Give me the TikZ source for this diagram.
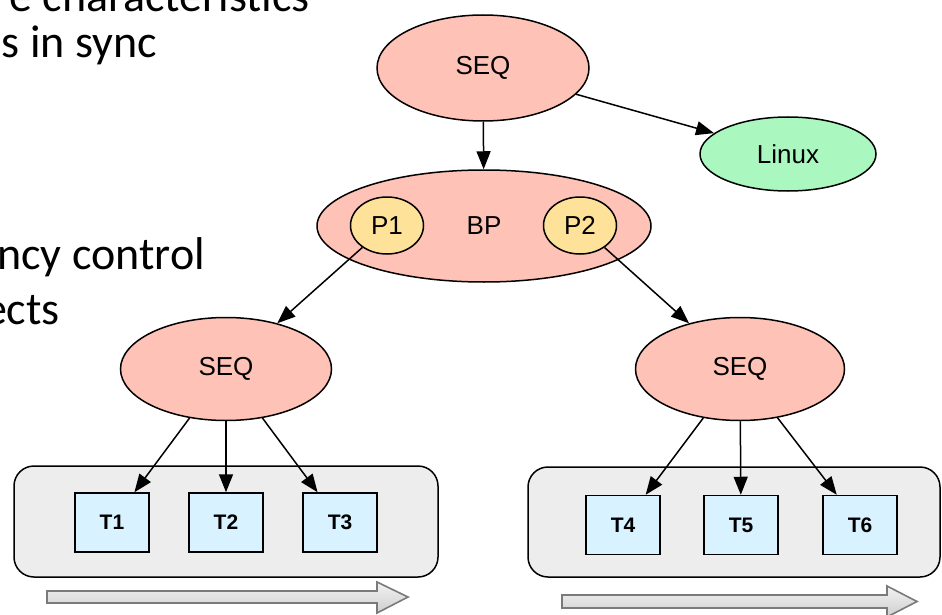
\documentclass[tikz,border=0pt]{standalone}
\usepackage{fontspec}
\setmainfont{Liberation Sans}
\newfontfamily\slidefont{Carlito}
\usetikzlibrary{shapes.geometric,arrows.meta}

\definecolor{salmon}{HTML}{FFC2B6}
\definecolor{gold}{HTML}{FFE29A}
\definecolor{mint}{HTML}{AAF7BF}
\definecolor{ice}{HTML}{D8F3FF}
\definecolor{panel}{HTML}{EDEDED}
\definecolor{rim}{HTML}{7A7A7A}
\definecolor{arrowtop}{HTML}{F2F2F2}
\definecolor{arrowbot}{HTML}{CFCFCF}

\tikzset{
  oval/.style={ellipse, draw=black, line width=1.5pt, inner sep=0pt,
    font=\fontsize{26}{30}\selectfont},
  seqnode/.style={oval, fill=salmon, minimum width=212pt, minimum height=106pt},
  portnode/.style={oval, fill=gold, minimum width=73pt, minimum height=57pt},
  tasknode/.style={rectangle, draw=black, fill=ice, line width=1.5pt,
    minimum width=74pt, minimum height=59pt, inner sep=0pt,
    font=\fontsize{21}{25}\selectfont\bfseries},
  group/.style={rectangle, rounded corners=20pt, draw=black, fill=panel,
    line width=1.5pt, inner sep=0pt},
  link/.style={line width=1.5pt, -{Triangle[length=18pt,width=14pt]}},
  flow/.style={draw=rim, top color=arrowtop, bottom color=arrowbot,
    line width=1.6pt, line join=miter},
  slidetext/.style={inner sep=0pt, anchor=base east,
    font=\slidefont\fontsize{46}{54}\selectfont}
}

\begin{document}
\begin{tikzpicture}[x=1pt, y=-1pt]
  \useasboundingbox (0,0) rectangle (942,615);
  \clip (0,0) rectangle (942,615);

  % bullet text of the slide, running in from the left edge
  \node[slidetext] (line1) at (310,12) {e characteristics};
  \node[slidetext] (line2) at (157,58) {s in sync};
  \node[slidetext] (line3) at (205,269) {ncy control};
  \node[slidetext] (line4) at (60,324) {ects};

  % task groups
  \node[group, minimum width=424pt, minimum height=111pt] (groupA) at (226,521.5) {};
  \node[group, minimum width=412pt, minimum height=110pt] (groupB) at (734,522) {};

  \node[tasknode] (t1) at (112,522.5) {T1};
  \node[tasknode] (t2) at (226,522.5) {T2};
  \node[tasknode] (t3) at (340,522.5) {T3};
  \node[tasknode] (t4) at (623,525) {T4};
  \node[tasknode] (t5) at (741,525) {T5};
  \node[tasknode] (t6) at (860,525) {T6};

  % schedulers
  \node[seqnode] (seqtop) at (483,68) {SEQ};
  \node[oval, fill=mint, minimum width=176pt, minimum height=74pt] (linux) at (788,154) {Linux};
  \node[oval, fill=salmon, minimum width=334pt, minimum height=112pt] (bp) at (484,226) {};
  \node[font=\fontsize{26}{30}\selectfont, inner sep=0pt] (bplabel) at (484,226) {BP};
  \node[portnode] (p1) at (387,225.5) {P1};
  \node[portnode] (p2) at (580,225.5) {P2};
  \node[seqnode, minimum width=211pt, minimum height=103pt] (seqA) at (226,369) {SEQ};
  \node[seqnode, minimum width=209pt, minimum height=103pt] (seqB) at (740,369) {SEQ};

  % connectors
  \draw[link] (seqtop) -- (bp);
  \draw[link] (seqtop) -- (linux);
  \draw[link] (p1) -- (seqA);
  \draw[link] (p2) -- (seqB);
  \draw[link] (seqA) -- (t1);
  \draw[link] (seqA) -- (t2);
  \draw[link] (seqA) -- (t3);
  \draw[link] (seqB) -- (t4);
  \draw[link] (seqB) -- (t5);
  \draw[link] (seqB) -- (t6);

  % time-line arrows under the groups
  \coordinate (tailA) at (47,597);
  \coordinate (tipA) at (408,597);
  \draw[flow] (tailA) ++(0,-6) -- (377,591) -- (377,582) -- (tipA)
    -- (377,613) -- (377,603) -- (47,603) -- cycle;
  \coordinate (tailB) at (562,601.5);
  \coordinate (tipB) at (917,601.5);
  \draw[flow] (tailB) ++(0,-6.5) -- (887,595) -- (887,586) -- (tipB)
    -- (887,617) -- (887,608) -- (562,608) -- cycle;
\end{tikzpicture}
\end{document}
